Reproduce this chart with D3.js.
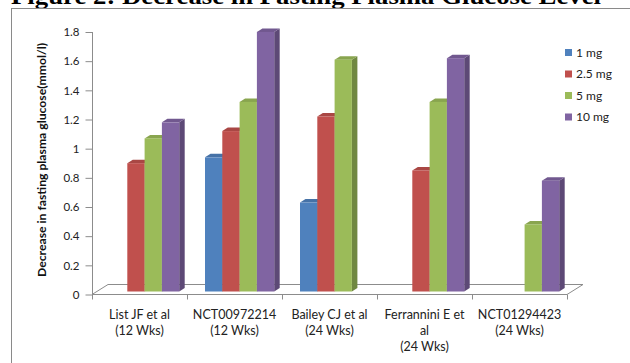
<!DOCTYPE html>
<html>
<head>
<meta charset="utf-8">
<script src="https://cdn.jsdelivr.net/npm/d3@7"></script>
<style>
  html, body { margin: 0; padding: 0; background: #fff; }
  svg { display: block; }
</style>
</head>
<body>
<svg id="chart" width="630" height="363"></svg>
<script>
// Studies on the x axis (each label split into lines)
const categories = ["List JF et al", "NCT00972214", "Bailey CJ et al", "Ferrannini E et al", "NCT01294423"];
const categoryLines = [
  ["List JF et al", "(12 Wks)"],
  ["NCT00972214", "(12 Wks)"],
  ["Bailey CJ et al", "(24 Wks)"],
  ["Ferrannini E et", "al", "(24 Wks)"],
  ["NCT01294423", "(24 Wks)"]
];
// Dose series and their decrease in FPG (mmol/l); null = dose not studied
const series = ["1 mg", "2.5 mg", "5 mg", "10 mg"];
const dose1mg   = [null, 0.92, 0.61, null, null];
const dose2_5mg = [0.88, 1.10, 1.20, 0.83, null];
const dose5mg   = [1.05, 1.30, 1.59, 1.30, 0.46];
const dose10mg  = [1.16, 1.78, null, 1.60, 0.76];
const seriesValues = [dose1mg, dose2_5mg, dose5mg, dose10mg];
const yTickLabels = ["0", "0.2", "0.4", "0.6", "0.8", "1", "1.2", "1.4", "1.6", "1.8"];

const colors = ["#4F81BD", "#C0504D", "#9BBB59", "#8064A2"];
const font = "Lato, 'Open Sans', sans-serif";

const svg = d3.select("#chart");

// Title (partially above the page edge)
svg.append("text")
  .attr("x", 11).attr("y", 4)
  .attr("font-family", "'Liberation Serif', 'Times New Roman', serif")
  .attr("font-weight", "bold")
  .attr("font-size", 24)
  .attr("textLength", 590)
  .attr("lengthAdjust", "spacingAndGlyphs")
  .attr("fill", "#000")
  .text("Figure 2: Decrease in Fasting Plasma Glucose Level");

// Chart frame
svg.append("rect")
  .attr("x", 11.5).attr("y", 8.5)
  .attr("width", 640).attr("height", 380)
  .attr("fill", "none").attr("stroke", "#8a8a8a").attr("stroke-width", 1);

// Scales
const x = d3.scaleBand().domain(categories).range([92, 567]);
const xInner = d3.scaleBand().domain(series).range([18, 18 + 4 * 17.3]);
const y = d3.scaleLinear().domain([0, 1.8]).range([294.5, 32]);

// 3D floor
const depth = { dx: 16, dy: -10 };
const axisColor = "#8c8c8c";
const floor = svg.append("g").attr("stroke", axisColor).attr("fill", "none").attr("stroke-width", 1);
const x0 = x.range()[0], x1 = x.range()[1], yf = y(0);
floor.append("path")
  .attr("d", `M${x0},${yf}L${x0 + depth.dx},${yf + depth.dy}L${x1 + depth.dx},${yf + depth.dy}L${x1},${yf}Z`);
// category separators below the floor
floor.selectAll("line.sep")
  .data(categories.map(c => x(c)).concat([x1]))
  .join("line")
  .attr("x1", d => d + 0.5).attr("x2", d => d + 0.5)
  .attr("y1", yf).attr("y2", yf + 5);

// Y axis
const yAxis = d3.axisLeft(y)
  .tickValues(yTickLabels.map(Number))
  .tickFormat((d, i) => yTickLabels[i])
  .tickSize(7)
  .tickPadding(6);
const yAxisG = svg.append("g")
  .attr("transform", `translate(${x0 + 0.5},0)`)
  .call(yAxis);
yAxisG.select(".domain").attr("stroke", axisColor).attr("d", `M-0,${y(1.8)}V${yf + 2}`);
yAxisG.selectAll(".tick line").attr("stroke", axisColor);
yAxisG.selectAll(".tick text")
  .attr("font-family", font).attr("font-size", 11.5).attr("fill", "#222");

// Y axis title
svg.append("text")
  .attr("transform", "translate(46,160) rotate(-90)")
  .attr("text-anchor", "middle")
  .attr("font-family", font).attr("font-weight", "bold").attr("font-size", 11)
  .attr("textLength", 234)
  .attr("lengthAdjust", "spacingAndGlyphs")
  .attr("fill", "#111")
  .text("Decrease in fasting plasma glucose(mmol/l)");

// Bars (front, side and top faces), drawn left to right
const bd = { dx: 5.5, dy: -3.5 };
const barLift = -3;
const barsG = svg.append("g").attr("transform", `translate(0,${barLift})`);
const barData = [];
categories.forEach((c, ci) => {
  series.forEach((s, si) => {
    const v = seriesValues[si][ci];
    if (v != null) barData.push({ c, s, si, v });
  });
});
const w = xInner.bandwidth();
const bar = barsG.selectAll("g.bar").data(barData).join("g").attr("class", "bar");
bar.append("path") // side face
  .attr("d", d => {
    const xl = x(d.c) + xInner(d.s) + w, yt = y(d.v), yb = y(0);
    return `M${xl},${yb}L${xl},${yt}L${xl + bd.dx},${yt + bd.dy}L${xl + bd.dx},${yb + bd.dy}Z`;
  })
  .attr("fill", d => d3.color(colors[d.si]).darker(0.9));
bar.append("path") // top face
  .attr("d", d => {
    const xl = x(d.c) + xInner(d.s), yt = y(d.v);
    return `M${xl},${yt}L${xl + bd.dx},${yt + bd.dy}L${xl + w + bd.dx},${yt + bd.dy}L${xl + w},${yt}Z`;
  })
  .attr("fill", d => d3.color(colors[d.si]).darker(0.35));
bar.append("rect") // front face
  .attr("x", d => x(d.c) + xInner(d.s))
  .attr("y", d => y(d.v))
  .attr("width", w)
  .attr("height", d => y(0) - y(d.v))
  .attr("fill", d => colors[d.si]);

// Category labels
const catG = svg.append("g")
  .attr("font-family", font).attr("font-size", 12.5).attr("fill", "#222")
  .attr("text-anchor", "middle");
categories.forEach((c, ci) => {
  const t = catG.append("text").attr("x", x(c) + x.bandwidth() / 2).attr("y", 318.5);
  categoryLines[ci].forEach((line, li) => {
    t.append("tspan").attr("x", x(c) + x.bandwidth() / 2).attr("dy", li === 0 ? 0 : 16.3).text(line);
  });
});

// Legend
const legend = svg.append("g").attr("font-family", font).attr("font-size", 12).attr("fill", "#222");
const legendY = d3.scalePoint().domain(series).range([52.5, 117]);
const item = legend.selectAll("g").data(series).join("g")
  .attr("transform", d => `translate(565,${legendY(d)})`);
item.append("rect").attr("x", 0).attr("y", -3.5).attr("width", 7).attr("height", 7)
  .attr("fill", (d, i) => colors[i]);
item.append("text").attr("x", 11).attr("y", 4).text(d => d);
</script>
</body>
</html>
